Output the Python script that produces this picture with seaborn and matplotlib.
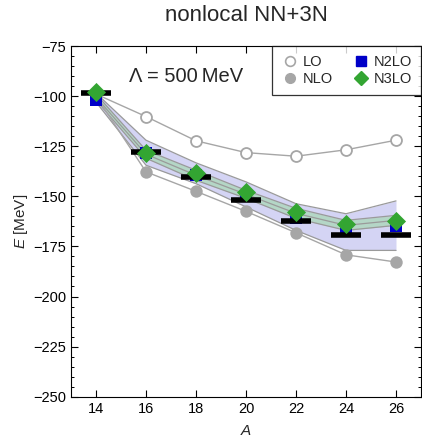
import numpy as np
import pandas as pd
import matplotlib
matplotlib.use("Agg")
import matplotlib.pyplot as plt
import seaborn as sns
from matplotlib.ticker import MultipleLocator
from matplotlib.lines import Line2D

# ---- data ----
A = [14, 16, 18, 20, 22, 24, 26]
E_LO = [-99.0, -110.2, -122.3, -128.2, -130.0, -126.8, -122.0]
E_NLO = [-100.0, -137.8, -147.5, -157.5, -168.2, -179.2, -182.8]
E_N2LO = [-101.7, -128.5, -139.5, -150.0, -161.0, -167.5, -165.0]
E_N3LO = [-97.8, -128.3, -138.3, -147.8, -157.8, -164.0, -162.3]
E_exp = [-98.7, -127.8, -140.3, -151.8, -162.5, -169.2, -169.2]
band_N2LO_hi = [-98.5, -122.0, -133.3, -142.8, -153.7, -158.7, -152.3]
band_N2LO_lo = [-103.0, -134.5, -143.7, -155.3, -167.0, -177.0, -177.0]
band_N3LO_hi = [-99.0, -127.0, -137.0, -147.0, -156.0, -162.0, -159.5]
band_N3LO_lo = [-102.0, -131.0, -142.0, -151.0, -161.0, -167.0, -164.5]
band_N3LO_mid = [-100.5, -129.0, -139.5, -149.0, -158.5, -164.5, -162.0]

sns.set_style("ticks")
plt.rcParams['font.family'] = ['Liberation Sans', 'DejaVu Sans']
plt.rcParams['mathtext.fontset'] = 'custom'
plt.rcParams['mathtext.it'] = 'Liberation Sans:italic'
plt.rcParams['mathtext.rm'] = 'Liberation Sans'

fig = plt.figure(figsize=(4.22, 4.45), dpi=100)
ax = fig.add_axes([71/422, 1-396.7/445, 350/422, (396.7-46)/445])

gray = '#a6a6a6'
edge = '#9a9a9a'
x = np.array(A, dtype=float)

# bands
ax.fill_between(x, band_N2LO_lo, band_N2LO_hi, color='#d4d4f4', lw=0, zorder=1)
sns.lineplot(x=A, y=band_N2LO_hi, color=edge, lw=0.9, ax=ax, zorder=2)
sns.lineplot(x=A, y=band_N2LO_lo, color=edge, lw=0.9, ax=ax, zorder=2)
ax.fill_between(x, band_N3LO_lo, band_N3LO_hi, color='#b4d6c6', lw=0, zorder=3)
for b in (band_N3LO_hi, band_N3LO_mid, band_N3LO_lo):
    sns.lineplot(x=A, y=b, color=edge, lw=0.9, ax=ax, zorder=4)

# LO / NLO lines
sns.lineplot(x=A, y=E_LO, color=gray, lw=1.0, ax=ax, zorder=5)
sns.lineplot(x=A, y=E_NLO, color=gray, lw=1.0, ax=ax, zorder=5)

# markers
sns.scatterplot(x=A, y=E_NLO, marker='o', s=80, color=gray, edgecolor=gray, linewidth=0, ax=ax, zorder=6)
sns.scatterplot(x=A, y=E_LO, marker='o', s=62, facecolor='white', edgecolor=gray, linewidth=1.3, ax=ax, zorder=6)
sns.scatterplot(x=A, y=E_N2LO, marker='s', s=85, color='#0000c8', edgecolor='#0000c8', linewidth=0, ax=ax, zorder=7)
ax.hlines(E_exp, x - 0.6, x + 0.6, colors='black', lw=4, zorder=8)
sns.scatterplot(x=A, y=E_N3LO, marker='D', s=95, color='#33a532', edgecolor='#33a532', linewidth=0, ax=ax, zorder=9)

ax.set_xlim(13, 27)
ax.set_ylim(-250, -75)
ax.xaxis.set_major_locator(MultipleLocator(2))
ax.yaxis.set_major_locator(MultipleLocator(25))
ax.yaxis.set_minor_locator(MultipleLocator(5))
ax.tick_params(which='both', direction='in', top=True, right=True, labelsize=10.5, colors='black')
ax.tick_params(which='major', length=5, width=0.8)
ax.tick_params(which='minor', length=2.5, width=0.7)
ax.tick_params(axis='x', which='minor', top=False, bottom=False)
ax.yaxis.set_major_formatter(matplotlib.ticker.FuncFormatter(lambda v, p: f"\u2212{abs(int(v))}" if v < 0 else f"{int(v)}"))
for s in ax.spines.values():
    s.set_color('black')
    s.set_linewidth(0.8)

ax.set_xlabel('$A$', fontsize=11, labelpad=6)
ax.set_ylabel('$E$ [MeV]', fontsize=11, labelpad=2)
ax.set_title('nonlocal NN+3N', fontsize=16, pad=18)
ax.text(0.165, 0.912, '\u039b = 500\u2009MeV', transform=ax.transAxes, fontsize=14.5, ha='left', va='center')

handles = [
    Line2D([], [], ls='none', marker='o', ms=7, mfc='white', mec=gray, mew=1.2),
    Line2D([], [], ls='none', marker='o', ms=7, mfc=gray, mec=gray),
    Line2D([], [], ls='none', marker='s', ms=7, mfc='#0000c8', mec='#0000c8'),
    Line2D([], [], ls='none', marker='D', ms=7, mfc='#33a532', mec='#33a532'),
]
leg = ax.legend(handles, ['LO', 'NLO', 'N2LO', 'N3LO'], ncol=2, loc='upper right',
                borderaxespad=0, frameon=True, fancybox=False, fontsize=10.5,
                handletextpad=0.3, columnspacing=1.3, borderpad=0.6, labelspacing=0.25,
                handlelength=1.2)
leg.get_frame().set_edgecolor('black')
leg.get_frame().set_linewidth(0.9)

fig.savefig('out.png', dpi=100)
